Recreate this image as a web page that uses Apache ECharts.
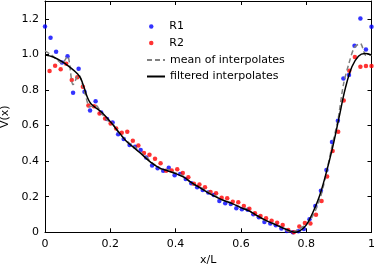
<!DOCTYPE html>
<html>
<head>
<meta charset="utf-8">
<script src="https://cdn.jsdelivr.net/npm/echarts@6/dist/echarts.min.js"></script>
<style>html,body{margin:0;padding:0;background:#fff;}#c{width:374px;height:268px;}</style>
</head>
<body>
<div id="c"></div>
<script>
var xTicks = [0, 0.2, 0.4, 0.6, 0.8, 1];
var yTicks = [0, 0.2, 0.4, 0.6, 0.8, 1.0, 1.2];

var r1X = [0, 0.017, 0.034, 0.052, 0.069, 0.086, 0.103, 0.121, 0.138, 0.155, 0.172, 0.19, 0.207, 0.224, 0.241, 0.259, 0.276, 0.293, 0.31, 0.328, 0.345, 0.362, 0.379, 0.397, 0.414, 0.431, 0.448, 0.466, 0.483, 0.5, 0.517, 0.534, 0.552, 0.569, 0.586, 0.603, 0.621, 0.638, 0.655, 0.672, 0.69, 0.707, 0.724, 0.741, 0.759, 0.776, 0.793, 0.81, 0.828, 0.845, 0.862, 0.879, 0.897, 0.914, 0.931, 0.948, 0.966, 0.983, 1.0];
var r1Y = [1.157, 1.093, 1.015, 0.955, 0.99, 0.784, 0.919, 0.79, 0.685, 0.736, 0.674, 0.637, 0.617, 0.551, 0.524, 0.49, 0.481, 0.462, 0.421, 0.376, 0.36, 0.346, 0.363, 0.32, 0.328, 0.3, 0.275, 0.253, 0.238, 0.223, 0.21, 0.176, 0.163, 0.159, 0.135, 0.129, 0.127, 0.102, 0.084, 0.058, 0.05, 0.039, 0.022, 0.007, 0.0, 0.006, 0.018, 0.073, 0.148, 0.233, 0.35, 0.507, 0.627, 0.865, 0.884, 1.048, 1.202, 1.028, 1.155];

var r2X = [0.014, 0.031, 0.048, 0.065, 0.082, 0.099, 0.116, 0.133, 0.15, 0.167, 0.184, 0.201, 0.218, 0.235, 0.252, 0.269, 0.286, 0.303, 0.32, 0.337, 0.354, 0.371, 0.388, 0.405, 0.422, 0.439, 0.456, 0.473, 0.49, 0.507, 0.524, 0.541, 0.558, 0.575, 0.592, 0.609, 0.626, 0.643, 0.66, 0.677, 0.694, 0.711, 0.728, 0.745, 0.762, 0.779, 0.796, 0.813, 0.83, 0.847, 0.864, 0.881, 0.898, 0.915, 0.932, 0.949, 0.966, 0.983, 1.0];
var r2Y = [0.906, 0.936, 0.917, 0.947, 0.856, 0.872, 0.818, 0.712, 0.708, 0.668, 0.64, 0.612, 0.584, 0.56, 0.565, 0.515, 0.488, 0.445, 0.436, 0.414, 0.388, 0.346, 0.348, 0.355, 0.333, 0.31, 0.273, 0.268, 0.253, 0.226, 0.219, 0.194, 0.192, 0.172, 0.169, 0.148, 0.132, 0.107, 0.092, 0.079, 0.065, 0.054, 0.041, 0.013, 0.0, 0.033, 0.052, 0.05, 0.099, 0.176, 0.313, 0.457, 0.565, 0.741, 0.908, 0.985, 0.93, 0.934, 0.934];

var meanX = [0, 0.017, 0.034, 0.052, 0.069, 0.086, 0.103, 0.121, 0.138, 0.155, 0.172, 0.19, 0.207, 0.224, 0.241, 0.259, 0.276, 0.293, 0.31, 0.328, 0.345, 0.362, 0.379, 0.397, 0.414, 0.431, 0.448, 0.466, 0.483, 0.5, 0.517, 0.534, 0.552, 0.569, 0.586, 0.603, 0.621, 0.638, 0.655, 0.672, 0.69, 0.707, 0.724, 0.741, 0.759, 0.776, 0.793, 0.81, 0.828, 0.845, 0.862, 0.879, 0.897, 0.914, 0.931, 0.948, 0.966, 0.983, 1.0];
var meanY = [1.02, 1.0, 0.975, 0.95, 0.99, 0.83, 0.885, 0.79, 0.705, 0.715, 0.672, 0.632, 0.61, 0.565, 0.53, 0.5, 0.478, 0.448, 0.425, 0.39, 0.37, 0.35, 0.352, 0.335, 0.325, 0.305, 0.276, 0.26, 0.246, 0.225, 0.213, 0.188, 0.176, 0.165, 0.152, 0.138, 0.128, 0.106, 0.088, 0.068, 0.056, 0.046, 0.03, 0.01, 0.0, 0.018, 0.035, 0.062, 0.122, 0.205, 0.335, 0.485, 0.63, 0.83, 0.95, 1.04, 1.06, 0.995, 0.995];

var filtX = [0, 0.025, 0.05, 0.075, 0.1, 0.11, 0.12, 0.13, 0.14, 0.15, 0.175, 0.2, 0.225, 0.25, 0.275, 0.3, 0.325, 0.35, 0.375, 0.4, 0.425, 0.45, 0.475, 0.5, 0.525, 0.55, 0.575, 0.6, 0.625, 0.65, 0.675, 0.7, 0.725, 0.75, 0.765, 0.78, 0.8, 0.82, 0.84, 0.86, 0.88, 0.9, 0.92, 0.94, 0.96, 0.98, 1.0];
var filtY = [0.996, 0.985, 0.962, 0.93, 0.89, 0.862, 0.812, 0.758, 0.724, 0.708, 0.672, 0.622, 0.565, 0.51, 0.472, 0.432, 0.392, 0.362, 0.346, 0.33, 0.31, 0.278, 0.25, 0.222, 0.198, 0.177, 0.16, 0.139, 0.12, 0.093, 0.068, 0.047, 0.027, 0.008, 0.0, 0.008, 0.04, 0.11, 0.2, 0.325, 0.47, 0.64, 0.81, 0.93, 0.99, 1.005, 0.997];

function pairs(xs, ys) { return xs.map(function (x, i) { return [x, ys[i]]; }); }

var FONT = 'DejaVu Sans';
var chart = echarts.init(document.getElementById('c'), null, {renderer: 'canvas'});
var axisCommon = {
  axisLine: {show: true, onZero: false, lineStyle: {color: '#000', width: 1}},
  axisTick: {show: true, inside: true, length: 4, lineStyle: {color: '#000', width: 1}},
  splitLine: {show: false}
};
function onTick(list) { return function (v) { return list.some(function (t) { return Math.abs(t - v) < 1e-9; }); }; }
var isX = onTick(xTicks), isY = onTick(yTicks);

chart.setOption({
  animation: false,
  backgroundColor: '#fff',
  grid: {left: 45, right: 2.5, top: 1, bottom: 35.7, containLabel: false, outerBoundsMode: 'none'},
  xAxis: [
    Object.assign({type: 'value', min: 0, max: 1, interval: 0.2, position: 'bottom',
      name: 'x/L', nameLocation: 'middle', nameGap: 20,
      nameTextStyle: {fontFamily: FONT, fontSize: 11, color: '#000'},
      axisLabel: {fontFamily: FONT, fontSize: 11, color: '#000', margin: 6, hideOverlap: false,
        formatter: function (v) { return isX(v) ? String(+v.toFixed(1)) : ''; }}}, axisCommon),
    Object.assign({type: 'value', min: 0, max: 1, interval: 0.2, position: 'top',
      axisLabel: {show: false}}, axisCommon)
  ],
  yAxis: [
    Object.assign({type: 'value', min: 0, max: 1.3, interval: 0.2, position: 'left',
      name: 'V(x)', nameLocation: 'middle', nameGap: 31,
      nameTextStyle: {fontFamily: FONT, fontSize: 11, color: '#000'},
      axisLabel: {fontFamily: FONT, fontSize: 11, color: '#000', margin: 6,
        formatter: function (v) { if (!isY(v)) return ''; return v === 0 ? '0' : v.toFixed(1); }}}, axisCommon),
    Object.assign({type: 'value', min: 0, max: 1.3, interval: 0.2, position: 'right',
      axisLabel: {show: false}}, axisCommon)
  ],
  legend: [
    {orient: 'vertical', left: 144, top: 15, itemWidth: 18, itemHeight: 4.5, itemGap: 3.5,
      data: ['R1', 'R2'],
      textStyle: {fontFamily: FONT, fontSize: 11, color: '#000', lineHeight: 13, padding: [0, 0, 0, 4]}},
    {orient: 'vertical', left: 141, top: 48.5, itemWidth: 18, itemHeight: 10, itemGap: 3.5,
      itemStyle: {opacity: 0},
      data: ['mean of interpolates', 'filtered interpolates'],
      textStyle: {fontFamily: FONT, fontSize: 11, color: '#000', lineHeight: 13}}
  ],
  series: [
    {name: 'R1', type: 'scatter', data: pairs(r1X, r1Y), symbol: 'circle', symbolSize: 4.5,
      itemStyle: {color: '#0000ff'}, clip: true, z: 2},
    {name: 'R2', type: 'scatter', data: pairs(r2X, r2Y), symbol: 'circle', symbolSize: 4.5,
      itemStyle: {color: '#ff0000'}, clip: true, z: 2},
    {name: 'mean of interpolates', type: 'line', data: pairs(meanX, meanY), showSymbol: false, symbol: 'none',
      smooth: 0.3, lineStyle: {color: '#808080', width: 1.5, type: [5, 3]}, itemStyle: {color: '#808080'}, z: 3},
    {name: 'filtered interpolates', type: 'line', data: pairs(filtX, filtY), showSymbol: false, symbol: 'none',
      smooth: 0.4, lineStyle: {color: '#000', width: 1.5}, itemStyle: {color: '#000'}, z: 4}
  ]
});
</script>
</body>
</html>
